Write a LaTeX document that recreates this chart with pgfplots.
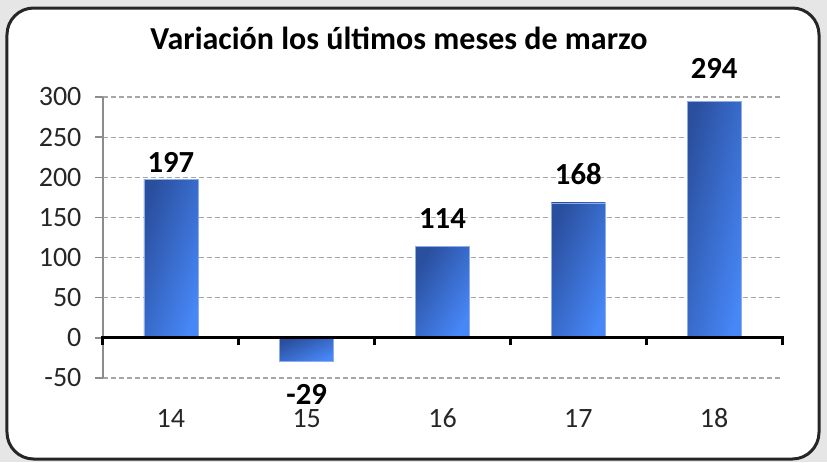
\documentclass[border=0pt]{standalone}
\usepackage{pgfplots}
\pgfplotsset{compat=1.18}
\usepackage{fontspec}
\setmainfont{Carlito}

\definecolor{bardark}{HTML}{2A4F9E}
\definecolor{barlight}{HTML}{4787F7}
\definecolor{baredge}{HTML}{8DADE8}
\definecolor{gridgray}{HTML}{A6A6A6}
\definecolor{axisgray}{HTML}{8C8C8C}
\definecolor{ticktext}{HTML}{262626}
\definecolor{pagegray}{HTML}{E6E6E6}

% #1 label offset, #2 shading angle (dark corner top left)
\pgfplotsset{
  marzobar/.style 2 args={ybar, bar width=40.5pt, bar shift=0pt,
    draw=baredge, line width=0.5pt,
    top color=bardark, bottom color=barlight, shading angle=#2,
    nodes near coords={\pgfmathprintnumber[assume math mode=true]{\pgfplotspointmeta}},
    nodes near coords align={vertical},
    every node near coord/.append style={font=\fontsize{23}{26}\selectfont\bfseries,
      text=black, inner sep=0pt, yshift=#1}},
}

\begin{document}
\begin{tikzpicture}
\useasboundingbox[fill=pagegray] (-77.25pt,-63pt) rectangle (543pt,283.5pt);
\draw[line width=2.25pt, rounded corners=20pt, fill=white, draw=black!85] (-72pt,-60.75pt) rectangle (537pt,277.5pt);
\node[anchor=base, font=\fontsize{24}{28}\selectfont\bfseries] at (222pt,246.75pt) {Variación los últimos meses de marzo};
\begin{axis}[
  scale only axis, width=509.25pt, height=210.75pt,
  xmin=-0.5, xmax=4.5, ymin=-50, ymax=300,
  axis y line*=left, axis x line*=bottom,
  x axis line style={draw=none},
  y axis line style={axisgray, line width=1.1pt},
  xtick={0,...,4}, xticklabels={14,15,16,17,18},
  x tick style={draw=none},
  ytick={-50,0,...,300},
  y tick style={axisgray, line width=1.1pt},
  tick align=outside, major tick length=6pt,
  ymajorgrids,
  grid style={gridgray, dash pattern=on 3.5pt off 2.5pt, line width=0.8pt},
  /pgf/number format/assume math mode=true,
  tick label style={font=\fontsize{21}{24}\selectfont, text=ticktext},
  yticklabel style={anchor=east, inner sep=0pt, xshift=-10pt},
  xticklabel style={anchor=base, inner sep=0pt, yshift=-31pt},
  clip=false,
]
\addplot[marzobar={5.25pt}{71}]  coordinates {(0,197)};
\addplot[marzobar={-17pt}{23}]   coordinates {(1,-29)};
\addplot[marzobar={13.5pt}{59}]  coordinates {(2,114)};
\addplot[marzobar={13.5pt}{68}]  coordinates {(3,168)};
\addplot[marzobar={17.25pt}{77}] coordinates {(4,294)};
\draw[line width=2.25pt, line cap=rect] (axis cs:-0.5,0) -- (axis cs:4.5,0);
\pgfplotsinvokeforeach{-0.5,0.5,1.5,2.5,3.5,4.5}{
  \draw[line width=2.25pt] (axis cs:#1,0) -- ([yshift=-5pt]axis cs:#1,0);
}
\end{axis}
\end{tikzpicture}
\end{document}
